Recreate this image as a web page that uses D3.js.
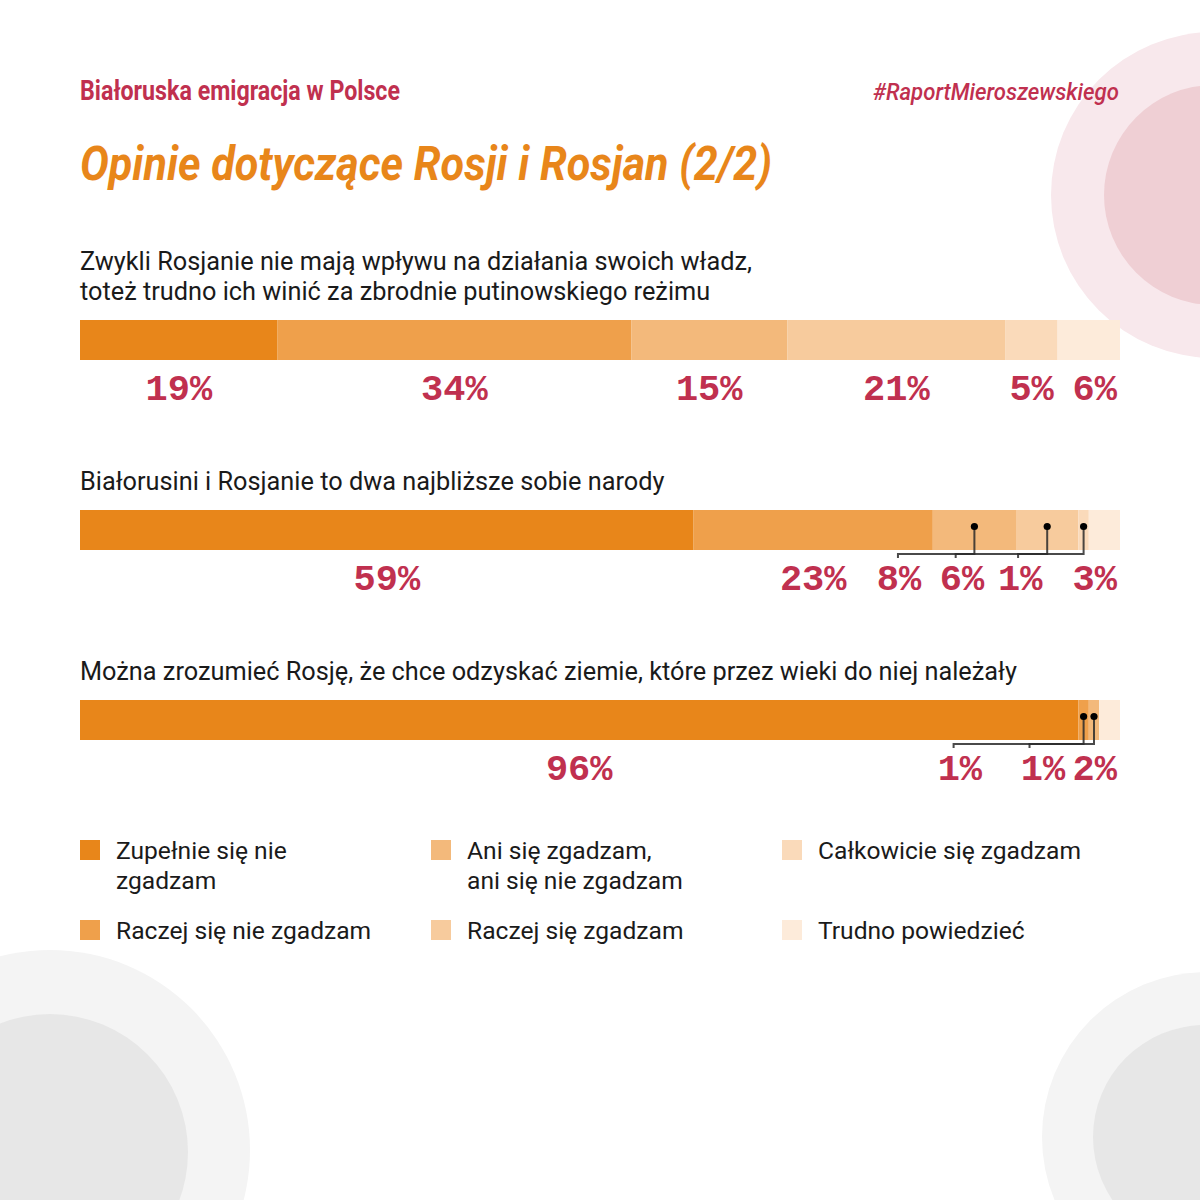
<!DOCTYPE html>
<html><head><meta charset="utf-8">
<script src="https://cdn.jsdelivr.net/npm/d3@7"></script>
<style>
html,body{margin:0;padding:0;background:#fff;}
svg{display:block;}
</style></head>
<body>
<script>
// ---- DATA ----
const categories = ["Zupełnie się nie zgadzam","Raczej się nie zgadzam","Ani się zgadzam, ani się nie zgadzam","Raczej się zgadzam","Całkowicie się zgadzam","Trudno powiedzieć"];
const questions = [
  ["Zwykli Rosjanie nie mają wpływu na działania swoich władz,","toteż trudno ich winić za zbrodnie putinowskiego reżimu"],
  ["Białorusini i Rosjanie to dwa najbliższe sobie narody"],
  ["Można zrozumieć Rosję, że chce odzyskać ziemie, które przez wieki do niej należały"]
];
const q1Values = [19, 34, 15, 21, 5, 6];
const q2Values = [59, 23, 8, 6, 1, 3];
const q3Values = [96, 1, 1, 0, 0, 2];
const seriesValues = [q1Values, q2Values, q3Values];
const colors = ["#E8861A","#EFA04B","#F3B97B","#F7CB9D","#FADABA","#FDEBDA"];
// callouts: segment index, tick anchor and label anchor (in percent-scale units)
const calloutSegments = [[], [2,3,4], [1,2]];
const calloutTicks    = [[], [78.65,84.2,90.2], [84.0,91.3]];
const calloutLabels   = [[], [78.75,84.8,90.4], [84.6,92.6]];
const legendLines = [["Zupełnie się nie","zgadzam"],["Raczej się nie zgadzam"],["Ani się zgadzam,","ani się nie zgadzam"],["Raczej się zgadzam"],["Całkowicie się zgadzam"],["Trudno powiedzieć"]];

// ---- LAYOUT ----
const W = 1200, H = 1200;
const svg = d3.select("body").append("svg").attr("width", W).attr("height", H);

// background circles
const bg = svg.append("g");
const circles = [
  {cx:1214, cy:195, r:163, fill:"#F8E8EC"},
  {cx:1214, cy:195, r:110, fill:"#EFCFD4"},
  {cx:50, cy:1150, r:200, fill:"#F4F4F4"},
  {cx:50, cy:1152, r:138, fill:"#E7E7E7"},
  {cx:1207, cy:1137, r:165, fill:"#F4F4F4"},
  {cx:1205, cy:1137, r:112, fill:"#E7E7E7"}
];
bg.selectAll("circle").data(circles).join("circle")
  .attr("cx", d=>d.cx).attr("cy", d=>d.cy).attr("r", d=>d.r).attr("fill", d=>d.fill);

const crimson = "#C0304F", orange = "#E8861A", ink = "#1a1a1a";
const fitText = (sel, w) => sel.attr("textLength", w).attr("lengthAdjust", "spacingAndGlyphs");

svg.append("text").attr("x", 80).attr("y", 100).text("Białoruska emigracja w Polsce")
  .attr("font-family","Roboto").attr("font-weight",700).attr("font-size",27).attr("fill",crimson)
  .call(fitText, 320);
svg.append("text").attr("x", 1119).attr("y", 100).attr("text-anchor","end").text("#RaportMieroszewskiego")
  .attr("font-family","Roboto").attr("font-style","italic").attr("font-weight",500).attr("font-size",24).attr("fill",crimson)
  .call(fitText, 246);
svg.append("text").attr("x", 80).attr("y", 180).text("Opinie dotyczące Rosji i Rosjan (2/2)")
  .attr("font-family","Roboto").attr("font-style","italic").attr("font-weight",700).attr("font-size",48).attr("fill",orange)
  .call(fitText, 692);

const x = d3.scaleLinear().domain([0, 100]).range([80, 1120]);
const barTop = [320, 510, 700];
const barH = 40;

seriesValues.forEach((vals, qi) => {
  const g = svg.append("g");
  const top = barTop[qi];
  // question
  const lines = questions[qi];
  lines.forEach((ln, li) => {
    g.append("text").attr("x", 80).attr("y", top - 20 - (lines.length - 1 - li) * 30)
      .text(ln).attr("font-family","Roboto").attr("font-size",25.3).attr("fill",ink);
  });
  // stacked segments
  let acc = 0;
  const segs = vals.map((v, i) => { const s = {i, v, x0: acc, x1: acc + v}; acc += v; return s; });
  g.selectAll("rect").data(segs.filter(s => s.v > 0)).join("rect")
    .attr("x", d => x(d.x0)).attr("width", d => x(d.x1) - x(d.x0))
    .attr("y", top).attr("height", barH).attr("fill", d => colors[d.i]);

  const cSegs = calloutSegments[qi];
  const lineY = top + barH + 4;
  // callouts
  cSegs.forEach((si, k) => {
    const s = segs[si];
    const dx = x((s.x0 + s.x1) / 2), ax = x(calloutTicks[qi][k]);
    const dy = top + 16.5;
    g.append("path").attr("d", `M${dx},${dy}V${lineY}H${ax}V${lineY + 4}`)
      .attr("fill","none").attr("stroke","#2a2a2a").attr("stroke-width",2).attr("stroke-opacity",0.85);
    g.append("circle").attr("cx", dx).attr("cy", dy).attr("r", 3.6).attr("fill","#000");
  });
  // labels
  const lastIdx = vals.length - 1;
  segs.filter(s => s.v > 0).forEach(s => {
    const ci = cSegs.indexOf(s.i);
    let lx = ci >= 0 ? x(calloutLabels[qi][ci]) : x((s.x0 + s.x1) / 2);
    const t = g.append("text").attr("y", top + barH + 40).text(s.v + "%")
      .attr("font-family","Liberation Mono").attr("font-weight",700).attr("font-size",37)
      .attr("fill", crimson).attr("text-anchor","middle");
    const w = t.node().getComputedTextLength();
    if (s.i === lastIdx) lx = x(100) - 3 - w / 2;
    else lx = Math.min(lx, x(100) - 3 - w / 2);
    t.attr("x", lx);
  });
});

// legend
const lg = svg.append("g");
const colX = [80, 431, 782], rowY = [840, 920];
categories.forEach((c, i) => {
  const col = Math.floor(i / 2), row = i % 2;
  const gx = colX[col], gy = rowY[row];
  lg.append("rect").attr("x", gx).attr("y", gy).attr("width", 20).attr("height", 20).attr("fill", colors[i]);
  legendLines[i].forEach((ln, li) => {
    lg.append("text").attr("x", gx + 36).attr("y", gy + 19 + li * 30).text(ln)
      .attr("font-family","Roboto").attr("font-size",24.6).attr("fill",ink);
  });
});
</script>
</body></html>
